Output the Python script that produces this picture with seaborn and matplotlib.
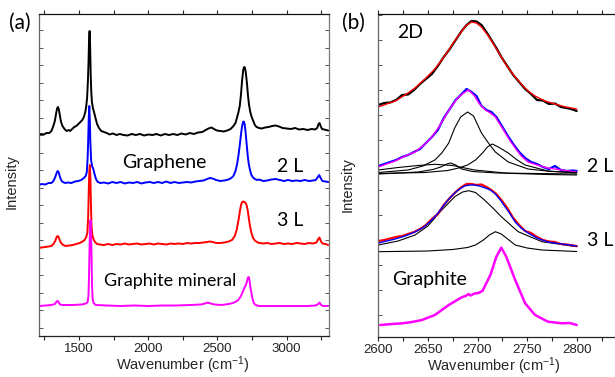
import numpy as np
import seaborn as sns
import matplotlib.pyplot as plt
from matplotlib.ticker import MultipleLocator

# --- data: panel (a), full Raman spectra (arb. intensity) ---
wn_1l = [1207, 1225, 1245, 1265, 1285, 1300, 1312, 1325, 1335, 1342, 1348, 1355, 1362, 1370, 1380,
         1395, 1410, 1425, 1436, 1450, 1465, 1480, 1495, 1510, 1523, 1535, 1545, 1552, 1558, 1564,
         1568, 1572, 1576, 1580, 1584, 1588, 1593, 1600, 1608, 1617, 1630, 1644, 1660, 1680, 1700,
         1720, 1745, 1770, 1795, 1820, 1850, 1880, 1910, 1940, 1970, 2000, 2030, 2060, 2090, 2120,
         2150, 2180, 2210, 2240, 2270, 2300, 2330, 2360, 2390, 2415, 2435, 2456, 2475, 2495, 2520,
         2545, 2570, 2595, 2615, 2630, 2640, 2650, 2661, 2670, 2678, 2686, 2692, 2698, 2704, 2712,
         2720, 2728, 2737, 2747, 2757, 2770, 2782, 2800, 2820, 2845, 2870, 2895, 2920, 2945, 2970,
         3000, 3030, 3060, 3090, 3120, 3150, 3180, 3205, 3220, 3230, 3237, 3245, 3255, 3270, 3285,
         3300]
int_1l = [201, 202, 201.5, 203, 203, 205, 209, 215, 223, 228, 229, 226, 220, 214, 210,
          207, 205, 206, 205, 207, 209, 210, 212, 214, 216, 219, 224, 230, 238, 255,
          272, 295, 305, 290, 262, 245, 234, 228, 224, 219, 212, 208, 205, 204, 203,
          201.5, 202.5, 201, 202, 201, 200.5, 202, 201, 202, 200.5, 201.5, 201, 202, 200.5, 202,
          201, 202, 201, 202.5, 201.5, 203, 202, 203.5, 204, 206, 207.5, 208.5, 207, 205.5, 205,
          204.5, 205.5, 207, 210, 213, 218, 223, 230, 242, 256, 266, 269, 268.5, 264, 254,
          241, 231, 224, 219, 215.5, 211, 209, 208, 207.5, 208.5, 209, 210, 210.5, 209.5, 208,
          207.5, 207, 208, 206.5, 207, 206, 207, 206.5, 208, 212, 213, 210, 207, 206.5, 206,
          205.5]

wn_2l = [1207, 1230, 1255, 1280, 1300, 1315, 1328, 1338, 1345, 1352, 1360, 1370, 1382, 1400, 1420,
         1445, 1470, 1495, 1515, 1535, 1548, 1556, 1562, 1566, 1570, 1574, 1578, 1582, 1587, 1594,
         1603, 1612, 1622, 1635, 1655, 1680, 1710, 1740, 1770, 1800, 1830, 1860, 1890, 1920, 1950,
         1980, 2010, 2040, 2070, 2100, 2130, 2160, 2190, 2220, 2250, 2280, 2310, 2340, 2370, 2400,
         2425, 2445, 2465, 2490, 2520, 2550, 2580, 2600, 2615, 2630, 2642, 2652, 2662, 2670, 2678,
         2685, 2690, 2696, 2703, 2710, 2718, 2726, 2735, 2745, 2757, 2770, 2785, 2800, 2830, 2860,
         2890, 2920, 2950, 2980, 3010, 3040, 3070, 3100, 3130, 3160, 3190, 3210, 3225, 3235, 3245,
         3258, 3280, 3300]
int_2l = [151, 152, 151.5, 153, 153, 155, 159, 163, 165, 164, 160, 156, 154, 153, 153.5,
          153, 154.5, 155, 156, 158, 160, 164, 178, 195, 218, 230, 215, 192, 176, 170,
          167, 162, 157, 154, 153, 153.5, 152.5, 154, 153, 154, 152.5, 153.5, 153, 154, 152.5,
          153.5, 154, 153, 154, 153, 154.5, 153, 154, 153, 153.5, 154, 153.5, 154.5, 155, 155.5,
          157, 158, 157.5, 156, 155, 155.5, 156.5, 158, 160, 165, 172, 181, 192, 202, 210,
          214, 214.5, 212, 204, 193, 181, 172, 166, 161, 158.5, 157, 156, 156.5, 155, 155.5,
          156.5, 157, 156, 155, 156, 155, 155.5, 155, 156, 155, 155.5, 156, 159, 161, 158,
          155, 154.5, 154]

wn_3l = [1207, 1230, 1255, 1280, 1300, 1315, 1328, 1338, 1345, 1352, 1360, 1370, 1385, 1405, 1430,
         1455, 1480, 1505, 1525, 1540, 1552, 1560, 1566, 1570, 1574, 1578, 1582, 1586, 1590, 1596,
         1604, 1615, 1630, 1650, 1680, 1710, 1740, 1770, 1800, 1830, 1860, 1890, 1920, 1950, 1980,
         2010, 2040, 2070, 2100, 2130, 2160, 2190, 2220, 2250, 2280, 2310, 2340, 2370, 2400, 2425,
         2444, 2465, 2490, 2520, 2550, 2580, 2605, 2625, 2640, 2652, 2662, 2670, 2678, 2686, 2695,
         2703, 2710, 2718, 2726, 2735, 2745, 2757, 2770, 2785, 2800, 2830, 2860, 2890, 2920, 2950,
         2980, 3010, 3040, 3070, 3100, 3130, 3160, 3190, 3215, 3228, 3237, 3246, 3258, 3280, 3300]
int_3l = [88, 88.5, 89, 89.5, 90, 92, 95, 99, 100, 99, 96, 93, 91, 90, 90.5,
          91, 92, 93, 94.5, 96, 99, 103, 120, 145, 165, 171, 158, 130, 110, 101,
          97, 94, 92, 91.5, 91, 92, 91, 92, 91.5, 92.5, 91.5, 92, 92.5, 91.5, 92,
          92.5, 91.5, 92.5, 92, 91.5, 92.5, 92, 92.5, 92, 93, 92.5, 93, 93, 93.5, 94,
          94.5, 94, 93, 93, 93.5, 94.5, 96, 100, 107, 116, 125, 131, 134, 134.5, 134,
          133, 131, 126, 118, 110, 103, 98, 95.5, 94, 93, 92.5, 93, 92, 92.5, 93,
          92, 92.5, 92, 93, 92.5, 92, 93, 92.5, 93.5, 97, 98.5, 95, 92.5, 92, 91]

wn_gr = [1207, 1260, 1300, 1325, 1338, 1345, 1352, 1362, 1380, 1450, 1520, 1550, 1562, 1568, 1572,
         1576, 1580, 1583, 1586, 1590, 1594, 1598, 1605, 1620, 1700, 1800, 1900, 2000, 2100, 2200,
         2300, 2380, 2410, 2430, 2450, 2480, 2530, 2580, 2612, 2635, 2650, 2663, 2673, 2685, 2697,
         2705, 2712, 2718, 2723, 2728, 2733, 2740, 2745, 2752, 2762, 2775, 2800, 2850, 2950, 3050,
         3150, 3210, 3228, 3237, 3246, 3260, 3300]
int_gr = [30, 30.5, 31, 32, 34.5, 35, 34, 31.5, 31, 31, 31.5, 32.5, 34, 40, 60,
          90, 112, 116, 108, 80, 50, 37, 33, 31, 30.5, 30, 30.5, 30, 30.5, 30.5,
          31, 31.5, 32.5, 33.5, 32.5, 31.5, 31, 32, 33, 34.5, 36, 38.5, 41, 45, 49,
          51, 54, 57.5, 59, 58.5, 54, 47, 43, 38, 33, 31, 30, 30, 30, 30,
          30, 30.5, 32, 33.5, 31.5, 30, 30]

# --- data: panel (b), 2D band with fits ---
wn_b1 = [2600, 2606, 2612, 2618, 2624, 2630, 2636, 2642, 2648, 2654, 2660, 2666, 2672, 2678,
         2684, 2689, 2694, 2699, 2704, 2709, 2714, 2719, 2724, 2730, 2736, 2742, 2748, 2754,
         2760, 2766, 2772, 2778, 2784, 2790, 2796, 2800]
b1_data = [232, 234, 234.5, 237, 242, 242.5, 247, 253, 258, 263, 271, 280, 288, 297,
           306, 312, 316, 315.5, 312, 305, 297, 289, 280, 271, 262, 255, 248, 243,
           237, 236.5, 233, 233.5, 230, 229, 227.5, 226]
wn_b1f = [2600, 2617, 2627, 2637, 2647, 2657, 2664, 2671, 2677, 2682, 2688, 2694, 2699, 2704,
          2711, 2718, 2724, 2731, 2738, 2745, 2751, 2758, 2768, 2778, 2789, 2800]
b1_fit = [230, 236, 242, 249, 258, 268, 277, 287, 296, 303, 311, 315, 314, 310,
          301, 290, 280, 269, 260, 252, 246, 241, 236, 233, 230, 228]

wn_b2 = [2600, 2606, 2612, 2618, 2624, 2630, 2636, 2642, 2648, 2654, 2660, 2666, 2672, 2678,
         2684, 2689, 2694, 2699, 2704, 2709, 2714, 2719, 2724, 2730, 2736, 2742, 2748, 2754,
         2760, 2766, 2772, 2778, 2784, 2790, 2796, 2800]
b2_data = [171, 173, 175, 177, 180, 182, 185, 188, 194, 200, 207, 219, 228, 237,
           243, 248, 245, 241, 231, 227, 225, 220, 212, 202, 193, 185, 179, 175,
           173, 170, 168, 171, 167, 166, 166.5, 166]
wn_b2f = [2600, 2617, 2627, 2637, 2646, 2654, 2661, 2667, 2672, 2677, 2681, 2686, 2691, 2697,
          2702, 2708, 2713, 2718, 2723, 2728, 2733, 2738, 2744, 2751, 2760, 2771, 2785, 2800]
b2_fit = [170, 176, 181, 185, 192, 200, 210, 220, 228, 235, 240, 244, 247, 241,
          233, 227, 224, 220, 212, 204, 196, 189, 181, 175, 172, 169, 167, 165]

wn_b2c1 = [2600, 2630, 2645, 2657, 2664, 2671, 2677, 2683, 2690, 2696, 2704, 2711, 2718, 2731,
           2751, 2775, 2800]
b2c1 = [164.5, 167, 171, 177, 184, 194, 209, 220, 225, 221, 204, 194, 185, 175,
        168, 165.5, 164.5]
wn_b2c2 = [2600, 2647, 2670, 2681, 2690, 2698, 2705, 2710, 2715, 2721, 2731, 2740, 2748, 2771, 2800]
b2c2 = [163.5, 164.5, 166.5, 169, 172, 177, 184, 190, 193, 190, 184, 177, 172, 166, 164]
wn_b2c3 = [2600, 2640, 2655, 2663, 2669, 2673, 2678, 2684, 2695, 2720, 2800]
b2c3 = [163, 165, 167.5, 170, 173, 174, 172, 168, 165.5, 164, 163]
wn_b2c4 = [2600, 2620, 2640, 2657, 2675, 2697, 2731, 2770, 2800]
b2c4 = [167, 169.5, 171.5, 172.7, 171.5, 167, 163.7, 162.5, 162]

wn_b3 = [2600, 2606, 2612, 2618, 2624, 2630, 2636, 2642, 2648, 2654, 2660, 2666, 2672, 2678,
         2684, 2689, 2694, 2699, 2704, 2709, 2714, 2719, 2724, 2730, 2736, 2742, 2748, 2754,
         2760, 2766, 2772, 2778, 2784, 2790, 2796, 2800]
b3_data = [96, 97, 98.5, 100, 101, 103, 105, 108, 112, 118, 123, 132, 139, 145,
           150, 153, 153, 152, 152.5, 150, 147, 143, 137, 129, 119, 112, 106, 104,
           100, 97, 95.5, 95, 93, 92.5, 91.5, 91]
wn_b3f = [2600, 2617, 2627, 2637, 2646, 2654, 2661, 2667, 2672, 2677, 2682, 2687, 2692, 2697,
          2702, 2708, 2713, 2718, 2723, 2728, 2733, 2738, 2744, 2751, 2760, 2771, 2785, 2800]
b3_fit = [94, 98, 101, 105, 110, 117, 125, 133, 139, 144, 148, 151, 152, 152,
          151, 149, 147, 143, 137, 130, 123, 115, 109, 104, 99, 95, 93, 91]

wn_b3c1 = [2600, 2620, 2637, 2650, 2664, 2677, 2685, 2691, 2698, 2707, 2716, 2724, 2741, 2765, 2800]
b3c1 = [92, 96, 102, 111, 127, 140.3, 145, 146.3, 144.5, 137, 128.5, 120.3, 105.3, 95.3, 90.3]
wn_b3c2 = [2600, 2650, 2675, 2690, 2698, 2706, 2712, 2718, 2724, 2731, 2738, 2750, 2765, 2800]
b3c2 = [85.3, 86, 87.5, 89.5, 92, 97, 102, 105.3, 103, 97.5, 92, 89, 87, 85.5]

wn_bg = [2602, 2614, 2624, 2634, 2644, 2657, 2671, 2684, 2688, 2691, 2693, 2697, 2701, 2705,
         2713, 2719, 2724, 2729, 2738, 2748, 2758, 2771, 2785, 2793, 2800]
bg = [12, 13, 13.7, 15, 17, 22, 32, 39.7, 41, 43, 41.5, 43.5, 44, 46,
      62, 80.3, 89.3, 80.3, 57, 33.7, 22, 15.3, 13.7, 14, 12]

sns.set_theme(style="ticks")
plt.rcParams['font.family'] = ['Liberation Sans', 'DejaVu Sans']
plt.rcParams['mathtext.default'] = 'regular'

fig = plt.figure(figsize=(6.15, 3.77), dpi=100)
ax_a = fig.add_axes([38.5 / 615, 1 - 336 / 377, 290 / 615, 322 / 377])
ax_b = fig.add_axes([378.3 / 615, 1 - 337 / 377, 248 / 615, 323 / 377])


def line(ax, x, y, color, lw):
    sns.lineplot(x=x, y=y, ax=ax, color=color, lw=lw, sort=False, estimator=None)


# panel (a)
line(ax_a, wn_1l, int_1l, '#000000', 1.4)
line(ax_a, wn_2l, int_2l, '#0000ff', 1.4)
line(ax_a, wn_3l, int_3l, '#ff0000', 1.4)
line(ax_a, wn_gr, int_gr, '#ff00ff', 1.4)
ax_a.set_xlim(1207, 3302)
ax_a.set_ylim(0, 322)
ax_a.set_xticks([1500, 2000, 2500, 3000])
ax_a.set_yticks(np.arange(8.5, 322, 17.5))

# panel (b)
line(ax_b, wn_b1, b1_data, 'black', 1.6)
line(ax_b, wn_b1f, b1_fit, '#ff0000', 1.0)
line(ax_b, wn_b2, b2_data, '#0000ff', 1.6)
line(ax_b, wn_b2f, b2_fit, '#ff00ff', 1.0)
for x, y in [(wn_b2c1, b2c1), (wn_b2c2, b2c2), (wn_b2c3, b2c3), (wn_b2c4, b2c4),
             (wn_b3c1, b3c1), (wn_b3c2, b3c2)]:
    line(ax_b, x, y, 'black', 0.8)
line(ax_b, wn_b3, b3_data, '#ff0000', 1.6)
line(ax_b, wn_b3f, b3_fit, '#0000ff', 1.0)
line(ax_b, wn_bg, bg, '#ff00ff', 1.8)
ax_b.set_xlim(2600, 2850)
ax_b.set_ylim(0, 323)
ax_b.set_xticks([2600, 2650, 2700, 2750, 2800])
ax_b.set_yticks(np.arange(22, 323, 25))

for ax in (ax_a, ax_b):
    ax.xaxis.set_minor_locator(MultipleLocator(250 if ax is ax_a else 25))
    ax.tick_params(axis='x', which='both', direction='out', length=3, width=0.8,
                   labelsize=9.5, pad=2, colors='#222222')
    ax.tick_params(axis='y', which='both', direction='in', length=3, width=0.7,
                   left=True, right=True, labelleft=False, colors='#555555')
    ax.tick_params(axis='x', top=True, which='both')
    ax.set_yticklabels([])
    for s in ax.spines.values():
        s.set_linewidth(0.9)
    ax.spines['left'].set_color('#666666')
    ax.spines['right'].set_color('#777777')
    ax.spines['top'].set_color('#111111')
    ax.spines['bottom'].set_color('#222222')
    ax.set_xlabel('Wavenumber (cm$^{-1}$)', fontsize=10.5)
    ax.set_ylabel('Intensity', fontsize=10.5)

ax_a.xaxis.set_label_coords(0.498, -0.056)
ax_a.yaxis.set_label_coords(-0.07, 0.48)
ax_b.xaxis.set_label_coords(0.466, -0.056)
ax_b.yaxis.set_label_coords(-0.094, 0.472)

# annotations
txt = dict(family=['Lato', 'DejaVu Sans'], va='center', color='black')
fig.text(9 / 615, 1 - 23 / 377, '(a)', fontsize=15, **txt)
fig.text(342 / 615, 1 - 23 / 377, '(b)', fontsize=15, **txt)
fig.text(122 / 615, 1 - 163 / 377, 'Graphene', fontsize=14, **txt)
fig.text(277 / 615, 1 - 167 / 377, '2 L', fontsize=14, **txt)
fig.text(277 / 615, 1 - 220 / 377, '3 L', fontsize=14, **txt)
fig.text(104 / 615, 1 - 281 / 377, 'Graphite mineral', fontsize=13, **txt)
fig.text(397 / 615, 1 - 33 / 377, '2D', fontsize=14, **txt)
fig.text(587 / 615, 1 - 167 / 377, '2 L', fontsize=14, **txt)
fig.text(587 / 615, 1 - 240 / 377, '3 L', fontsize=14, **txt)
fig.text(392 / 615, 1 - 280 / 377, 'Graphite', fontsize=14, **txt)

fig.savefig('out.png', dpi=100)
